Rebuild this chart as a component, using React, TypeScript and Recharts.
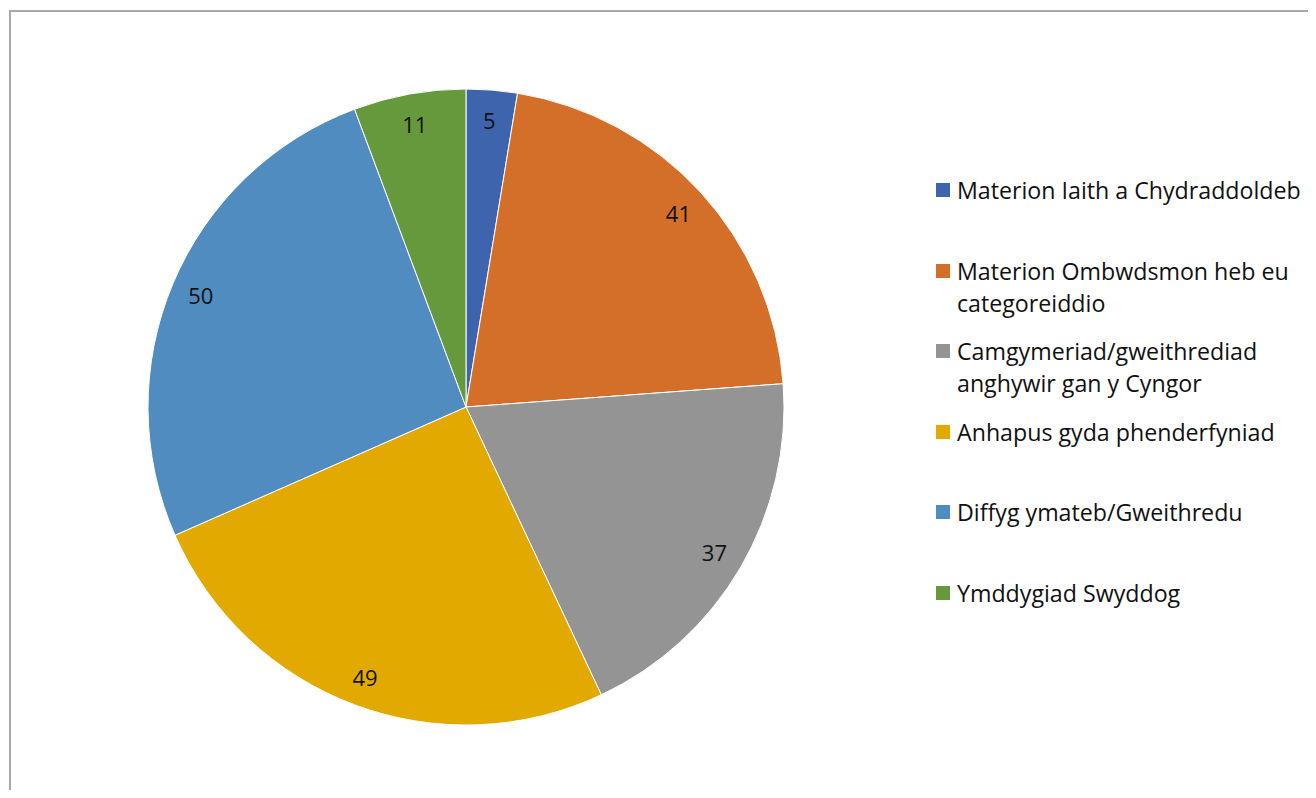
import React from "react";
import { PieChart, Pie, Cell, Legend } from "recharts";

const categories = [
  "Materion Iaith a Chydraddoldeb",
  "Materion Ombwdsmon heb eu categoreiddio",
  "Camgymeriad/gweithrediad anghywir gan y Cyngor",
  "Anhapus gyda phenderfyniad",
  "Diffyg ymateb/Gweithredu",
  "Ymddygiad Swyddog",
];
const values = [5, 41, 37, 49, 50, 11];
const colors = ["#3F64AE", "#D46F2A", "#949494", "#E2AA00", "#518CC0", "#66993C"];

const data = categories.map((name, i) => ({ name, value: values[i] }));

const FONT = "'Open Sans', 'Noto Sans', sans-serif";
const RAD = Math.PI / 180;

function SliceLabel(props: any) {
  const { cx, cy, midAngle, outerRadius, value } = props;
  const r = outerRadius * 0.905;
  const x = cx + r * Math.cos(-midAngle * RAD);
  const y = cy + r * Math.sin(-midAngle * RAD);
  return (
    <text x={x} y={y} textAnchor="middle" dominantBaseline="central" fill="#111" fontSize={22} fontFamily={FONT}>
      {value}
    </text>
  );
}

function LegendBox() {
  return (
    <div style={{ position: "relative", width: 380, height: 500 }}>
      {data.map((d, i) => (
        <div
          key={d.name}
          style={{ position: "absolute", left: 0, top: i * 80.5, display: "flex", alignItems: "flex-start" }}
        >
          <div style={{ width: 14, height: 14, background: colors[i], marginTop: 9, marginRight: 7, flexShrink: 0 }} />
          <div style={{ width: 360, fontFamily: FONT, fontSize: 23.2, lineHeight: "32px", color: "#111" }}>{d.name}</div>
        </div>
      ))}
    </div>
  );
}

export default function App() {
  return (
    <div style={{ position: "relative", width: 1316, height: 798, margin: -8, overflow: "hidden", background: "#fff" }}>
      <div
        style={{
          position: "absolute",
          left: 9,
          top: 10,
          width: 1340,
          height: 820,
          border: "2px solid #a9a9a9",
          boxSizing: "border-box",
        }}
      />
      <PieChart
        width={1316}
        height={798}
        margin={{ top: 0, right: 0, bottom: 0, left: 0 }}
        style={{ position: "absolute", left: 0, top: 0 }}
      >
        <Pie
          data={data}
          dataKey="value"
          nameKey="name"
          cx={466}
          cy={407}
          outerRadius={318}
          startAngle={90}
          endAngle={-270}
          stroke="#ffffff"
          strokeWidth={1}
          label={SliceLabel}
          labelLine={false}
          isAnimationActive={false}
        >
          {data.map((d, i) => (
            <Cell key={d.name} fill={colors[i]} />
          ))}
        </Pie>
        <Legend
          content={() => <LegendBox />}
          wrapperStyle={{ position: "absolute", left: 936, top: 174, width: 380 }}
        />
      </PieChart>
    </div>
  );
}
